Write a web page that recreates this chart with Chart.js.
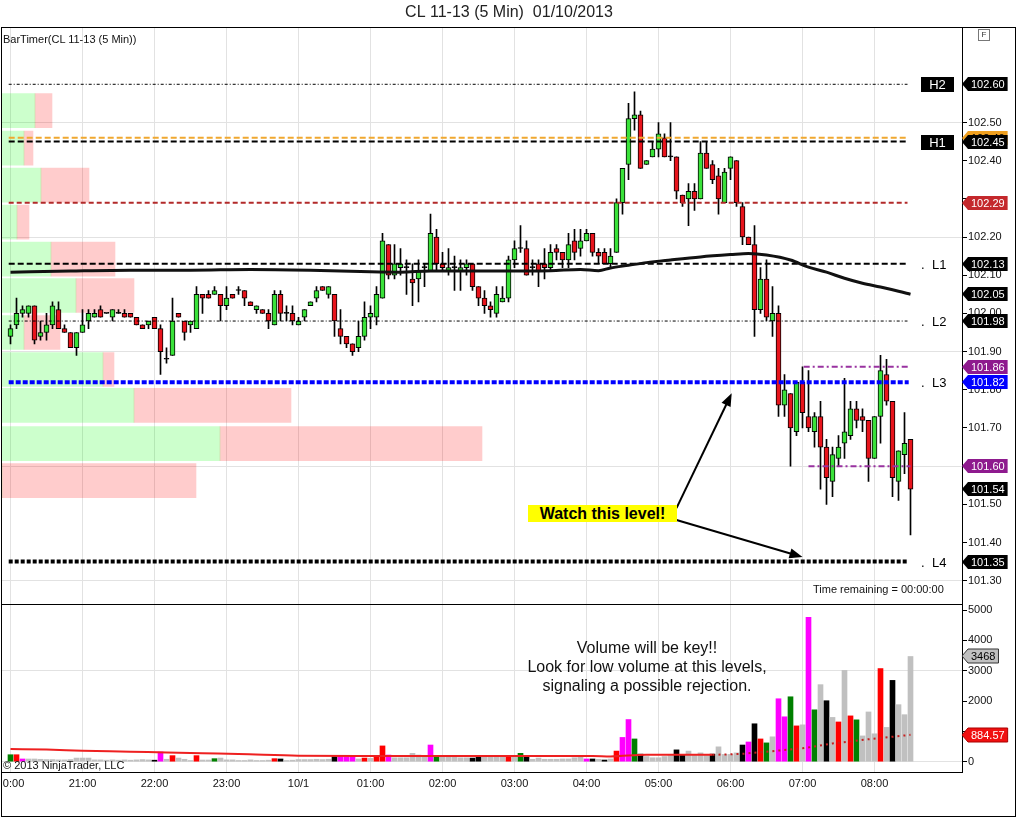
<!DOCTYPE html>
<html lang="en">
<head>
<meta charset="utf-8">
<title>CL 11-13 (5 Min) 01/10/2013</title>
<script src="https://cdn.jsdelivr.net/npm/chart.js@4.4.1/dist/chart.umd.min.js"></script>
<style>
  html, body { margin: 0; padding: 0; background: #fff; }
  body { position: relative; width: 1016px; height: 817px; overflow: hidden;
         font-family: "Liberation Sans", Arial, sans-serif; color: #111; }
  canvas { position: absolute; left: 0; }
  #price { top: 0; }
  #volume { top: 604px; }
  .rule { position: absolute; background: #000; }
  .note { position: absolute; white-space: nowrap; font-size: 11px; line-height: 13px; }
  #watch { position: absolute; left: 528px; top: 505px; width: 149px; height: 17px; background: #ffff00;
           font-weight: bold; font-size: 16px; line-height: 17px; text-align: center; color: #000; }
  #volnote { position: absolute; left: 447px; top: 638px; width: 400px; text-align: center;
             font-size: 16px; line-height: 19px; color: #111; }
  #fbox { position: absolute; left: 978px; top: 29px; width: 10px; height: 10px; border: 1px solid #777;
          font-size: 8px; line-height: 10px; text-align: center; color: #333; }
</style>
</head>
<body>
<canvas id="price" width="1016" height="604"></canvas>
<canvas id="volume" width="1016" height="213"></canvas>

<div class="note" style="left:3px;top:33px">BarTimer(CL 11-13 (5 Min))</div>
<div class="note" style="left:813px;top:583px">Time remaining = 00:00:00</div>
<div class="note" style="left:3px;top:759px">© 2013 NinjaTrader, LLC</div>
<div id="watch">Watch this level!</div>
<div id="volnote">Volume will be key!!<br>Look for low volume at this levels,<br>signaling a possible rejection.</div>
<div id="fbox">F</div>

<div style="position:absolute;left:0;top:774px;width:3px;height:18px;background:#fff"></div>
<div class="rule" style="left:1px;top:27px;width:1015px;height:1px"></div>
<div class="rule" style="left:1px;top:27px;width:1px;height:790px"></div>
<div class="rule" style="left:1px;top:816px;width:1015px;height:1px"></div>
<div class="rule" style="left:1015px;top:27px;width:1px;height:790px"></div>
<div class="rule" style="left:1px;top:604px;width:962px;height:1px"></div>
<div class="rule" style="left:1px;top:772px;width:962px;height:1px"></div>

<script>
// ---------- data ----------
// bar index 0 = 20:00, one bar = 5 minutes
const hourTicks = [0, 12, 24, 36, 48, 60, 72, 84, 96, 108, 120, 132, 144];
const hourLabels = ['20:00', '21:00', '22:00', '23:00', '10/1', '01:00', '02:00', '03:00',
                    '04:00', '05:00', '06:00', '07:00', '08:00'];
const priceTicks = [101.3, 101.4, 101.5, 101.6, 101.7, 101.8, 101.9, 102.0, 102.1, 102.2, 102.3, 102.4, 102.5, 102.6];
const priceGrid = [101.3, 101.6, 101.9, 102.2, 102.5];
const volTicks = [0, 1000, 2000, 3000, 4000, 5000];
const volGrid = [0, 3000];

const open = [
  101.94,101.97,102.00,102.00,102.02,101.94,101.95,101.97,102.01,101.96,
  101.95,101.91,101.95,101.98,101.99,102.01,102.00,101.99,102.00,102.00,
  102.00,101.99,101.97,101.97,101.99,101.96,101.88,101.89,102.00,101.98,
  101.97,101.96,102.05,102.05,102.05,102.05,102.02,102.05,102.06,102.06,
  102.03,102.01,102.01,102.00,101.97,102.05,102.00,102.00,101.97,101.99,
  102.02,102.04,102.07,102.05,102.05,101.96,101.94,101.92,101.91,101.94,
  101.99,101.99,102.04,102.18,102.10,102.12,102.12,102.09,102.09,102.12,
  102.11,102.20,102.13,102.11,102.12,102.11,102.12,102.13,102.07,102.04,
  102.02,102.00,102.03,102.04,102.14,102.17,102.17,102.12,102.13,102.13,
  102.12,102.17,102.16,102.14,102.19,102.17,102.19,102.21,102.16,102.16,
  102.13,102.16,102.29,102.39,102.51,102.52,102.39,102.41,102.43,102.46,
  102.41,102.41,102.31,102.30,102.32,102.30,102.42,102.39,102.36,102.29,
  102.38,102.40,102.28,102.20,102.18,102.01,102.09,101.98,102.00,101.76,
  101.79,101.69,101.82,101.73,101.69,101.73,101.65,101.56,101.62,101.66,
  101.68,101.75,101.73,101.72,101.62,101.73,101.84,101.77,101.56,101.63,
  101.67];
const high = [
  101.97,102.04,102.02,102.02,102.02,101.98,102.00,102.03,102.03,101.97,
  101.95,101.95,102.01,102.01,102.01,102.02,102.00,102.01,102.01,102.01,
  102.00,101.99,101.97,101.98,101.99,101.97,101.91,102.04,102.00,101.98,
  101.98,102.07,102.05,102.06,102.07,102.05,102.07,102.05,102.07,102.06,
  102.03,102.02,102.01,102.01,102.06,102.06,102.02,102.02,101.99,102.01,
  102.03,102.07,102.07,102.07,102.05,102.01,101.94,101.92,101.98,102.03,
  102.02,102.07,102.21,102.18,102.18,102.17,102.14,102.13,102.14,102.13,
  102.26,102.22,102.16,102.17,102.15,102.14,102.14,102.13,102.07,102.06,
  102.03,102.07,102.07,102.15,102.19,102.23,102.19,102.14,102.14,102.17,
  102.18,102.18,102.16,102.21,102.22,102.22,102.22,102.21,102.17,102.17,
  102.17,102.30,102.38,102.55,102.58,102.53,102.40,102.45,102.50,102.47,
  102.50,102.41,102.31,102.34,102.34,102.45,102.45,102.40,102.38,102.38,
  102.41,102.40,102.29,102.20,102.23,102.12,102.14,102.07,102.02,101.84,
  101.79,101.82,101.86,101.85,101.74,101.77,101.67,101.65,101.68,101.83,
  101.77,101.77,101.75,101.72,101.73,101.89,101.88,101.77,101.64,101.74,
  101.67];
const low = [
  101.92,101.96,101.99,101.99,101.92,101.93,101.93,101.96,101.96,101.95,
  101.91,101.89,101.95,101.96,101.99,101.99,102.00,101.98,102.00,101.99,
  101.99,101.97,101.96,101.96,101.96,101.84,101.87,101.89,101.99,101.93,
  101.95,101.96,102.00,102.04,102.05,101.98,102.01,102.04,102.05,102.02,
  102.02,102.00,102.00,101.96,101.97,101.98,101.98,101.97,101.97,101.98,
  102.02,102.03,102.06,102.04,101.94,101.92,101.91,101.89,101.90,101.93,
  101.96,101.97,102.04,102.09,102.09,102.10,102.05,102.02,102.03,102.07,
  102.11,102.11,102.11,102.10,102.06,102.06,102.10,102.06,102.02,102.00,
  101.99,101.99,102.03,102.03,102.12,102.16,102.10,102.10,102.07,102.09,
  102.11,102.14,102.12,102.12,102.14,102.15,102.19,102.15,102.13,102.13,
  102.12,102.16,102.26,102.35,102.48,102.38,102.39,102.41,102.41,102.41,
  102.40,102.30,102.28,102.23,102.27,102.30,102.38,102.34,102.26,102.29,
  102.35,102.28,102.18,102.18,101.94,102.00,101.98,101.94,101.73,101.73,
  101.60,101.68,101.70,101.69,101.65,101.54,101.50,101.52,101.60,101.62,
  101.67,101.70,101.69,101.56,101.62,101.66,101.76,101.52,101.51,101.58,
  101.42];
const close = [
  101.96,102.00,102.01,102.02,101.93,101.95,101.97,102.02,101.96,101.95,
  101.91,101.95,101.97,102.00,102.00,101.99,102.00,102.01,102.00,101.99,
  101.99,101.97,101.96,101.98,101.96,101.90,101.88,101.98,101.99,101.95,
  101.98,102.05,102.04,102.04,102.06,102.02,102.04,102.04,102.06,102.04,
  102.02,102.02,102.00,101.98,102.05,102.00,102.00,101.98,101.98,102.01,
  102.03,102.06,102.06,102.07,101.98,101.94,101.92,101.90,101.94,101.99,
  102.00,102.05,102.19,102.10,102.13,102.13,102.12,102.08,102.11,102.12,
  102.21,102.13,102.12,102.12,102.12,102.12,102.13,102.07,102.04,102.02,
  102.01,102.05,102.04,102.14,102.17,102.17,102.10,102.12,102.11,102.12,
  102.16,102.16,102.14,102.18,102.16,102.19,102.21,102.16,102.15,102.13,
  102.15,102.29,102.38,102.51,102.52,102.38,102.40,102.43,102.47,102.41,
  102.41,102.32,102.29,102.32,102.30,102.42,102.38,102.35,102.30,102.37,
  102.41,102.29,102.20,102.18,102.01,102.09,101.99,102.00,101.76,101.80,
  101.70,101.82,101.74,101.70,101.73,101.65,101.57,101.63,101.65,101.69,
  101.75,101.72,101.72,101.62,101.73,101.85,101.77,101.57,101.64,101.66,
  101.54];

// moving average of price (read at the bars listed)
const maIdx = [0, 10, 20, 30, 40, 50, 55, 60, 65, 70, 80, 90, 95, 98, 100, 103, 106, 110, 115,
               120, 123, 126, 130, 133, 136, 139, 142, 145, 148, 150];
const maVal = [102.108, 102.111, 102.113, 102.113, 102.115, 102.113, 102.111, 102.109, 102.108, 102.111,
               102.111, 102.112, 102.115, 102.112, 102.119, 102.126, 102.133, 102.140, 102.148,
               102.154, 102.157, 102.153, 102.140, 102.121, 102.108, 102.092, 102.079, 102.069, 102.058, 102.050];

const volume = [
  230,230,90,90,90,80,70,70,60,60,
  70,120,120,120,60,60,50,60,50,60,
  50,60,70,60,50,320,80,200,120,80,
  40,200,55,55,100,120,60,60,40,40,
  60,40,40,50,100,90,40,50,70,70,
  70,80,70,80,165,165,145,165,90,120,
  110,165,520,220,130,130,130,275,220,145,
  550,165,145,200,200,130,130,120,175,200,
  165,200,165,190,190,275,165,80,120,80,
  80,80,90,90,130,190,90,90,80,55,
  90,350,800,1390,750,250,170,130,130,170,
  200,390,220,350,220,290,240,250,490,240,
  240,290,550,650,1250,750,620,820,2075,1480,
  2140,1180,1215,4760,1710,2540,2010,1460,1310,3010,
  1510,1380,850,1640,920,3070,1130,2680,1880,1550,
  3468];
// g green, r red, m magenta, k black, s silver
const volCode = ('grmsssssss' + 'ssssssssss' + 'sssskmsrss' + 'srssgsssss' + 'ssssrkssss' +
                 'sssskmmmsr' + 'srrmssssss' + 'mgssssskks' + 'sssrsgksss' + 'ssssssmksk' +
                 'srmmgkssss' + 'skksssskss' + 'sskmkrgsmm' + 'grsmgsksrs' + 'rgsssrskss' + 's').split('');

const volMaIdx = [0, 6, 12, 20, 26, 32, 38, 48, 60, 80, 97, 100, 106, 117];
const volMaVal = [420, 400, 365, 330, 300, 275, 255, 200, 190, 188, 188, 175, 230, 225];
const volMa2Idx = [117, 122, 126, 132, 137, 143, 150];
const volMa2Val = [225, 260, 330, 440, 600, 740, 884.57];

const levels     = [102.60, 102.46, 102.45, 102.29, 102.13, 101.98, 101.82, 101.35, 101.86, 101.60];
const levelNames = ['H2', '', 'H1', '', 'L1', 'L2', 'L3', 'L4', '', ''];
const levelFrom  = [-0.3, -0.3, -0.3, -0.3, -0.3, -0.3, -0.3, -0.3, 132.2, 133.0];
const levelTo    = [149.5, 149.5, 149.5, 149.5, 149.5, 149.5, 149.7, 149.7, 149.7, 150.0];

// volume at price (left profile)
const profilePrice = [102.531, 102.433, 102.336, 102.239, 102.142, 102.047, 101.950, 101.853, 101.759, 101.659, 101.562];
const profileBuy   = [33, 22, 39, 15, 49, 74, 22, 101, 132, 218, 0];
const profileSell  = [17, 9, 48, 12, 64, 58, 36, 11, 157, 262, 194];

// annotation arrows: [fromBar, fromPrice, toBar, toPrice]
const arrows = [[111, 101.490, 120.2, 101.791], [111, 101.459, 132, 101.362]];

// ---------- styles ----------
Chart.defaults.font.family = '"Liberation Sans", Arial, sans-serif';
Chart.defaults.font.size = 11;
Chart.defaults.color = '#111';
Chart.defaults.animation = false;

const UP = '#3ae23a', DOWN = '#e8141c', GRID = '#e2e2e2';
const VOL_COLORS = {g: '#008000', r: '#ff0000', m: '#ff00ff', k: '#000000', s: '#c0c0c0'};
const LEVEL_STYLE = [
  {color: '#000', width: 1, dash: [3, 2, 1, 2]},
  {color: '#f0a830', width: 2, dash: [6, 3]},
  {color: '#000', width: 2, dash: [6, 3]},
  {color: '#b22a2a', width: 2, dash: [5, 3]},
  {color: '#000', width: 2, dash: [6, 3]},
  {color: '#000', width: 1, dash: [3, 2, 1, 2]},
  {color: '#0000ff', width: 4, dash: [5, 2]},
  {color: '#000', width: 4, dash: [4, 2]},
  {color: '#9932a0', width: 2, dash: [6, 3, 2, 3]},
  {color: '#9932a0', width: 2, dash: [6, 3, 2, 3]}
];
const TAG_STYLE = [
  {bg: '#000', fg: '#fff'}, {bg: '#f0a020', fg: '#000'}, {bg: '#000', fg: '#fff'},
  {bg: '#c4282c', fg: '#fff'}, {bg: '#000', fg: '#fff'}, {bg: '#000', fg: '#fff'},
  {bg: '#0000ff', fg: '#fff'}, {bg: '#000', fg: '#fff'}, {bg: '#8e1a8e', fg: '#fff'}, {bg: '#8e1a8e', fg: '#fff'}
];

// 6 px per bar, bar 0 at x = 10.5
const X_MIN = -17 / 12, X_MAX = X_MIN + 160;
const P_MIN = 101.239, P_MAX = 102.7495;
const V_MIN = -339.5, V_MAX = 5198;

const near = (list, v) => list.some(g => Math.abs(g - v) < 1e-6 * Math.max(1, Math.abs(g)));

// values that get a tag on the axis; tick labels right under a tag are left out
const priceTagValues = levels.concat([maVal[maVal.length - 1], close[close.length - 1]]);
const volTagValues = [volume[volume.length - 1], volMa2Val[volMa2Val.length - 1]];
const underTag = (tags, v, gap) => tags.some(t => Math.abs(t - v) < gap);

function drawTag(ctx, x, y, text, bg, fg, stroke) {
  ctx.font = '11px "Liberation Sans", Arial, sans-serif';
  const r = x + 9 + ctx.measureText(text).width + 3;
  ctx.beginPath();
  ctx.moveTo(x, y);
  ctx.lineTo(x + 6, y - 7);
  ctx.lineTo(r, y - 7);
  ctx.lineTo(r, y + 7);
  ctx.lineTo(x + 6, y + 7);
  ctx.closePath();
  ctx.fillStyle = bg;
  ctx.fill();
  if (stroke) { ctx.strokeStyle = stroke; ctx.lineWidth = 1; ctx.stroke(); }
  ctx.fillStyle = fg;
  ctx.textAlign = 'left';
  ctx.textBaseline = 'middle';
  ctx.fillText(text, x + 9, y + 0.5);
}

const priceDecor = {
  id: 'priceDecor',
  afterDatasetsDraw(chart) {
    const {ctx, chartArea: a, scales: {x, y}} = chart;
    ctx.save();
    ctx.font = '13px "Liberation Sans", Arial, sans-serif';
    ctx.textBaseline = 'middle';
    levels.forEach((v, k) => {
      const name = levelNames[k];
      if (!name) return;
      const py = Math.round(y.getPixelForValue(v));
      if (name[0] === 'H') {
        ctx.fillStyle = '#000';
        ctx.fillRect(a.right - 41, py - 7, 33, 15);
        ctx.fillStyle = '#fff';
        ctx.textAlign = 'center';
        ctx.fillText(name, a.right - 24.5, py + 1);
      } else {
        ctx.fillStyle = '#000';
        ctx.textAlign = 'left';
        ctx.fillText('.', a.right - 41, py + 1);
        ctx.fillText(name, a.right - 30, py + 1);
      }
    });
    ctx.strokeStyle = '#000';
    ctx.fillStyle = '#000';
    ctx.lineWidth = 2;
    arrows.forEach(([i0, p0, i1, p1]) => {
      const x0 = x.getPixelForValue(i0), y0 = y.getPixelForValue(p0);
      const x1 = x.getPixelForValue(i1), y1 = y.getPixelForValue(p1);
      const ang = Math.atan2(y1 - y0, x1 - x0);
      ctx.beginPath();
      ctx.moveTo(x0, y0);
      ctx.lineTo(x1 - 10 * Math.cos(ang), y1 - 10 * Math.sin(ang));
      ctx.stroke();
      ctx.beginPath();
      ctx.moveTo(x1, y1);
      ctx.lineTo(x1 - 13 * Math.cos(ang) + 5 * Math.sin(ang), y1 - 13 * Math.sin(ang) - 5 * Math.cos(ang));
      ctx.lineTo(x1 - 13 * Math.cos(ang) - 5 * Math.sin(ang), y1 - 13 * Math.sin(ang) + 5 * Math.cos(ang));
      ctx.closePath();
      ctx.fill();
    });
    ctx.restore();
  },
  afterDraw(chart) {
    const {ctx, chartArea: a, scales: {y}} = chart;
    ctx.save();
    const tags = levels.map((v, k) => ({v, s: TAG_STYLE[k]}));
    tags.push({v: maVal[maVal.length - 1], s: {bg: '#000', fg: '#fff'}});
    tags.push({v: close[close.length - 1], s: {bg: '#000', fg: '#fff'}});
    // orange one first so the black H1 tag sits on top of it
    tags.sort((p, q) => (p.s.bg === '#f0a020' ? -1 : 0) - (q.s.bg === '#f0a020' ? -1 : 0));
    tags.forEach(t => drawTag(ctx, a.right, Math.round(y.getPixelForValue(t.v)), t.v.toFixed(2), t.s.bg, t.s.fg));
    ctx.restore();
  }
};

const volDecor = {
  id: 'volDecor',
  afterDraw(chart) {
    const {ctx, chartArea: a, scales: {y}} = chart;
    ctx.save();
    const lastVol = volume[volume.length - 1];
    const lastMa = volMa2Val[volMa2Val.length - 1];
    drawTag(ctx, a.right, Math.round(y.getPixelForValue(lastVol)), String(lastVol), '#c0c0c0', '#000', '#333');
    drawTag(ctx, a.right, Math.round(y.getPixelForValue(lastMa)), lastMa.toFixed(2), '#f01010', '#fff', '#a00');
    ctx.restore();
  }
};

const hourAxis = (extra) => Object.assign({
  type: 'linear', min: X_MIN, max: X_MAX, offset: false,
  afterBuildTicks: s => { s.ticks = hourTicks.map(v => ({value: v})); },
  grid: {color: GRID, offset: false, drawTicks: false},
  border: {display: false}
}, extra);

// ---------- price panel ----------
const bars = open.map((_, i) => i);

new Chart(document.getElementById('price'), {
  type: 'bar',
  data: {
    datasets: [
      {
        type: 'line', label: 'SMA', xAxisID: 'x', yAxisID: 'y', order: 0,
        data: maIdx.map((b, k) => ({x: b, y: maVal[k]})),
        borderColor: '#111', borderWidth: 3, pointRadius: 0, cubicInterpolationMode: 'monotone'
      },
      ...levels.map((v, k) => ({
        type: 'line', label: levelNames[k] || 'level', xAxisID: 'x', yAxisID: 'y', order: 1,
        data: [{x: levelFrom[k], y: v}, {x: levelTo[k], y: v}],
        borderColor: LEVEL_STYLE[k].color, borderWidth: LEVEL_STYLE[k].width,
        borderDash: LEVEL_STYLE[k].dash, pointRadius: 0
      })),
      {
        label: 'body', xAxisID: 'x', yAxisID: 'y', order: 2,
        data: bars.map(i => ({x: i, y: [open[i], close[i]]})),
        backgroundColor: bars.map(i => close[i] > open[i] ? UP : close[i] < open[i] ? DOWN : '#000'),
        borderColor: '#000', borderWidth: 1, borderSkipped: false,
        barThickness: 5, grouped: false, minBarLength: 1
      },
      {
        label: 'wick', xAxisID: 'x', yAxisID: 'y', order: 3,
        data: bars.map(i => ({x: i, y: [low[i], high[i]]})),
        backgroundColor: '#000', borderWidth: 0, barThickness: 1, grouped: false
      },
      {
        label: 'buy volume', indexAxis: 'y', xAxisID: 'xp', yAxisID: 'y', order: 8,
        data: profilePrice.map((p, k) => ({y: p, x: [0, profileBuy[k]]})),
        backgroundColor: 'rgba(0,255,0,0.2)', borderWidth: 0, barThickness: 34, grouped: false
      },
      {
        label: 'sell volume', indexAxis: 'y', xAxisID: 'xp', yAxisID: 'y', order: 9,
        data: profilePrice.map((p, k) => ({y: p, x: [profileBuy[k], profileBuy[k] + profileSell[k]]})),
        backgroundColor: 'rgba(255,0,0,0.2)', borderWidth: 0, barThickness: 34, grouped: false
      }
    ]
  },
  options: {
    responsive: false,
    layout: {padding: {left: 2, right: 0, top: 0, bottom: 0}},
    plugins: {
      legend: {display: false},
      tooltip: {enabled: false},
      title: {
        display: true, text: 'CL 11-13 (5 Min)  01/10/2013', color: '#222',
        font: {size: 16, weight: 'normal'}, padding: {top: 3, bottom: 5}
      }
    },
    scales: {
      x: hourAxis({
        ticks: {display: false},
        afterFit: s => { s.height = 0; }
      }),
      xp: {type: 'linear', display: false, min: 0, max: 960, offset: false},
      y: {
        type: 'linear', position: 'right', min: P_MIN, max: P_MAX, offset: false,
        afterBuildTicks: s => { s.ticks = priceTicks.map(v => ({value: v})); },
        afterFit: s => { s.width = 54; s.paddingTop = 0; s.paddingBottom = 0; },
        ticks: {
          callback: v => underTag(priceTagValues, v, 0.015) ? '' : Number(v).toFixed(2),
          padding: 1, color: '#111'
        },
        grid: {
          offset: false,
          color: c => (c.tick && near(priceGrid, c.tick.value)) ? GRID : 'rgba(0,0,0,0)',
          tickColor: '#000', tickLength: 5
        },
        border: {display: true, color: '#000'}
      }
    }
  },
  plugins: [priceDecor]
});

// ---------- volume panel ----------
new Chart(document.getElementById('volume'), {
  type: 'bar',
  data: {
    datasets: [
      {
        type: 'line', label: 'vol avg', order: 0,
        data: volMa2Idx.map((b, k) => ({x: b, y: volMa2Val[k]})),
        borderColor: '#c81e1e', borderWidth: 2, borderDash: [2, 4], pointRadius: 0
      },
      {
        type: 'line', label: 'vol avg', order: 1,
        data: volMaIdx.map((b, k) => ({x: b, y: volMaVal[k]})),
        borderColor: '#ee2020', borderWidth: 2, pointRadius: 0, cubicInterpolationMode: 'monotone'
      },
      {
        label: 'volume', order: 2,
        data: volume.map((v, i) => ({x: i, y: v})),
        backgroundColor: volCode.map(c => VOL_COLORS[c]),
        borderWidth: 0, barThickness: 5, grouped: false
      }
    ]
  },
  options: {
    responsive: false,
    layout: {padding: {left: 2, right: 0, top: 0, bottom: 0}},
    plugins: {legend: {display: false}, tooltip: {enabled: false}},
    scales: {
      x: hourAxis({
        ticks: {callback: (v, k) => hourLabels[k], autoSkip: false, maxRotation: 0, padding: 5, color: '#111'},
        afterFit: s => { s.height = 45; s.paddingLeft = 0; s.paddingRight = 0; }
      }),
      y: {
        type: 'linear', position: 'right', min: V_MIN, max: V_MAX, offset: false,
        afterBuildTicks: s => { s.ticks = volTicks.map(v => ({value: v})); },
        afterFit: s => { s.width = 54; s.paddingTop = 0; s.paddingBottom = 0; },
        ticks: {
          callback: v => underTag(volTagValues, v, 200) ? '' : String(v),
          padding: 1, color: '#111'
        },
        grid: {
          color: c => (c.tick && near(volGrid, c.tick.value)) ? GRID : 'rgba(0,0,0,0)',
          tickColor: '#000', tickLength: 5
        },
        border: {display: true, color: '#000'}
      }
    }
  },
  plugins: [volDecor]
});
</script>
</body>
</html>
